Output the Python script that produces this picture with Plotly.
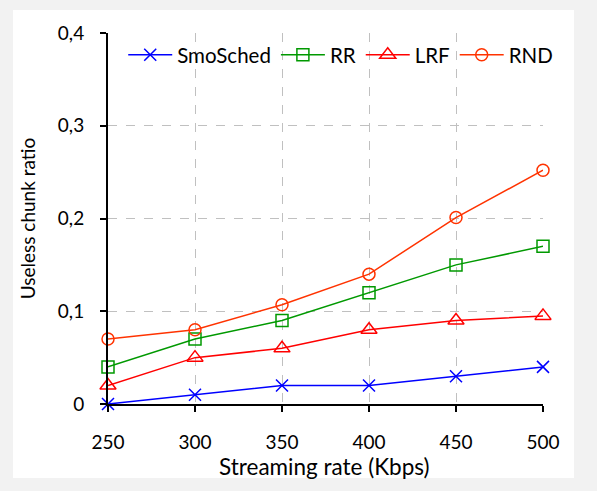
import plotly.graph_objects as go

rates = [250, 300, 350, 400, 450, 500]
smosched = [0.0, 0.01, 0.02, 0.02, 0.03, 0.04]
rr = [0.04, 0.07, 0.09, 0.12, 0.15, 0.17]
lrf = [0.02, 0.05, 0.06, 0.08, 0.09, 0.095]
rnd = [0.07, 0.08, 0.107, 0.14, 0.201, 0.252]

y_tickvals = [0, 0.1, 0.2, 0.3, 0.4]
y_ticktext = ["0", "0,1", "0,2", "0,3", "0,4"]
x_tickvals = [250, 300, 350, 400, 450, 500]
x_ticktext = ["250", "300", "350", "400", "450", "500"]
x_title = "Streaming rate (Kbps)"
y_title = "Useless chunk ratio"

FONT = "Lato"

fig = go.Figure()
series = [
    ("SmoSched", smosched, "#0000ff", "x-thin", 12),
    ("RR", rr, "#009900", "square-open", 12),
    ("LRF", lrf, "#ff0000", "triangle-up-open", 14),
    ("RND", rnd, "#ff3300", "circle-open", 12),
]
for name, vals, color, sym, size in series:
    fig.add_trace(go.Scatter(
        x=rates, y=vals, name=name, mode="lines+markers",
        line=dict(color=color, width=1.5),
        marker=dict(symbol=sym, size=size, color=color,
                    line=dict(color=color, width=1.5)),
        cliponaxis=False,
    ))

# white panel on gray page
L, T, W, H = 108, 33, 435, 371
def px2x(p):
    return (p - L) / W
def py2y(p):
    return (T + H - p) / H
fig.add_shape(type="rect", xref="paper", yref="paper",
              x0=px2x(13), x1=px2x(574), y0=py2y(478), y1=py2y(10),
              fillcolor="white", line=dict(width=0), layer="below")

fig.add_annotation(text=x_title, xref="paper", yref="paper",
                   x=px2x(324), y=py2y(451), xanchor="center", yanchor="top",
                   showarrow=False, font=dict(size=22.5))

fig.update_layout(
    width=597, height=491,
    margin=dict(l=L, r=597 - L - W, t=T, b=491 - T - H),
    paper_bgcolor="#f2f2f2", plot_bgcolor="white",
    font=dict(family=FONT, size=19, color="black"),
    separators=",.",
    showlegend=True,
    legend=dict(orientation="h", x=0.035, y=0.995, xanchor="left", yanchor="top",
                bgcolor="rgba(0,0,0,0)", font=dict(size=20.5), itemwidth=44,
                tracegroupgap=0, itemclick=False),
    xaxis=dict(range=[250, 500], tickvals=x_tickvals, ticktext=x_ticktext,
               showline=True, linecolor="black", linewidth=2,
               ticks="outside", ticklen=6, tickcolor="black", tickwidth=1.5,
               ticklabelstandoff=14,
               showgrid=True, gridcolor="#c0c0c0", griddash="dash", gridwidth=1.2,
               zeroline=False, mirror=False),
    yaxis=dict(range=[0, 0.4], tickvals=y_tickvals, ticktext=y_ticktext,
               showline=True, linecolor="black", linewidth=2,
               ticks="outside", ticklen=6, tickcolor="black", tickwidth=1.5,
               ticklabelstandoff=12,
               showgrid=True, gridcolor="#c0c0c0", griddash="dash", gridwidth=1.2,
               zeroline=False,
               title=dict(text=y_title, standoff=17, font=dict(size=19))),
)

fig.write_html("out.html")
